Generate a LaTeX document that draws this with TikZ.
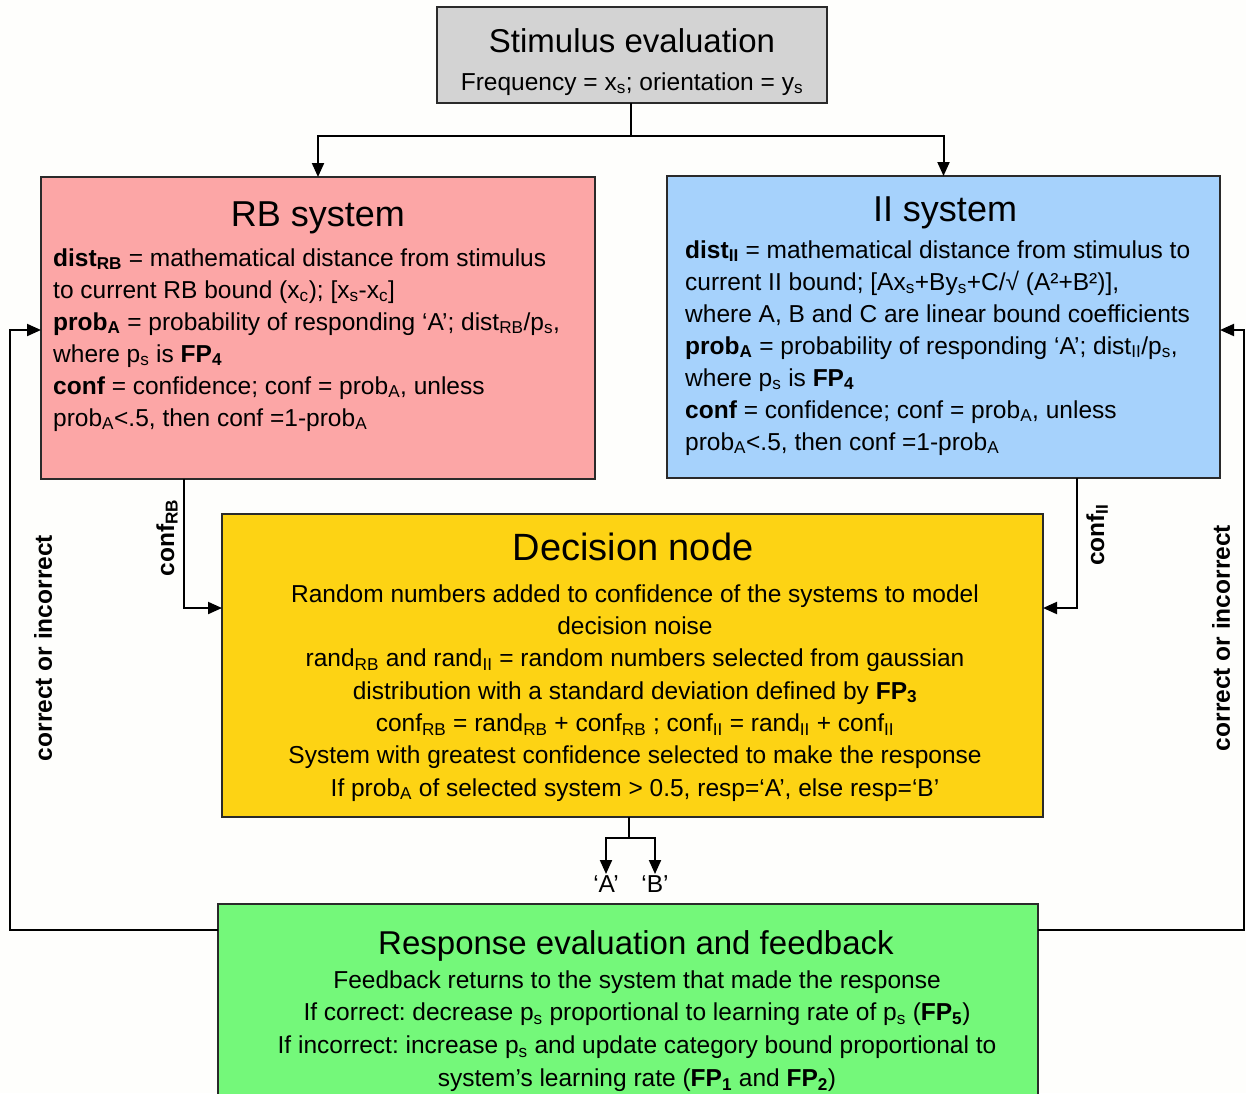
\documentclass[tikz,border=0pt]{standalone}
\usepackage{fontspec}
\setmainfont{Liberation Sans}
\usetikzlibrary{arrows.meta}
\newcommand\sub[1]{\textsubscript{#1}}
\definecolor{bgc}{HTML}{FEFEFC}
\definecolor{stimc}{HTML}{D3D3D3}
\definecolor{rbc}{HTML}{FCA6A6}
\definecolor{iic}{HTML}{A6D2FC}
\definecolor{decc}{HTML}{FDD314}
\definecolor{respc}{HTML}{74F87A}
\definecolor{edgec}{HTML}{2A2A2A}
\frenchspacing
\begin{document}
\begin{tikzpicture}[x=1pt,y=-1pt,
  box/.style={draw=edgec,line width=1.4pt,inner sep=0pt,outer sep=0pt,rectangle},
  ttl/.style={inner sep=0pt,font=\fontsize{33}{40}\selectfont},
  bdy/.style={inner sep=0pt,font=\fontsize{24.5}{32}\selectfont},
  lbl/.style={inner sep=0pt,font=\fontsize{24.5}{30}\selectfont\bfseries},
  conn/.style={line width=2pt,draw=black},
  arr/.style={conn,-{Triangle[length=14pt,width=12pt]}}]
\fill[bgc] (0,0) rectangle (1246,1093);
\useasboundingbox (0,0) rectangle (1246,1093);
\begin{scope}
\clip (0,0) rectangle (1246,1093);
% boxes
\node[box,fill=stimc,minimum width=390pt,minimum height=96pt] (stim) at (632,55) {};
\node[box,fill=rbc,minimum width=554pt,minimum height=302pt] (rb) at (318,328) {};
\node[box,fill=iic,minimum width=553pt,minimum height=302pt] (ii) at (943.5,327) {};
\node[box,fill=decc,minimum width=821pt,minimum height=303pt] (dec) at (632.5,665.5) {};
\node[box,fill=respc,minimum width=820pt,minimum height=220pt] (resp) at (628,1014) {};
\end{scope}
% stimulus text
\node[ttl,anchor=base] (stimT) at (632,52) {Stimulus evaluation};
\node[bdy,anchor=base] (stimB) at (632,90) {Frequency = x\sub{s}; orientation = y\sub{s}};
% RB text
\node[ttl,anchor=base,font=\fontsize{36}{40}\selectfont] (rbT) at (318,226) {RB system};
\node[bdy,align=left,anchor=north west] (rbB) at (53,243.6) {\strut\textbf{dist\sub{RB}} = mathematical distance from stimulus\\
to current RB bound (x\sub{c}); [x\sub{s}-x\sub{c}]\\
\textbf{prob\sub{A}} = probability of responding ‘A’; dist\sub{RB}/p\sub{s},\\
where p\sub{s} is \textbf{FP\sub{4}}\\
\textbf{conf} = confidence; conf = prob\sub{A}, unless\\
prob\sub{A}<.5, then conf =1-prob\sub{A}};
% II text
\node[ttl,anchor=base,font=\fontsize{36}{40}\selectfont] (iiT) at (945,221) {II system};
\node[bdy,align=left,anchor=north west] (iiB) at (685,235.6) {\strut\textbf{dist\sub{II}} = mathematical distance from stimulus to\\
current II bound; [Ax\sub{s}+By\sub{s}+C/√ (A²+B²)],\\
where A, B and C are linear bound coefficients\\
\textbf{prob\sub{A}} = probability of responding ‘A’; dist\sub{II}/p\sub{s},\\
where p\sub{s} is \textbf{FP\sub{4}}\\
\textbf{conf} = confidence; conf = prob\sub{A}, unless\\
prob\sub{A}<.5, then conf =1-prob\sub{A}};
% decision text
\node[ttl,anchor=base,font=\fontsize{38}{44}\selectfont] (decT) at (633,560) {Decision node};
\node[bdy,align=center,anchor=north,font=\fontsize{24.5}{32.3}\selectfont] (decB) at (635,579.4) {\strut Random numbers added to confidence of the systems to model\\
decision noise\\
rand\sub{RB} and rand\sub{II} = random numbers selected from gaussian\\
distribution with a standard deviation defined by \textbf{FP\sub{3}}\\
conf\sub{RB} = rand\sub{RB} + conf\sub{RB} ; conf\sub{II} = rand\sub{II} + conf\sub{II}\\
System with greatest confidence selected to make the response\\
If prob\sub{A} of selected system > 0.5, resp=‘A’, else resp=‘B’};
% response text
\node[ttl,anchor=base] (respT) at (636,954) {Response evaluation and feedback};
\node[bdy,align=center,anchor=north,font=\fontsize{24.5}{32.7}\selectfont] (respB) at (637,965.1) {\strut Feedback returns to the system that made the response\\
If correct: decrease p\sub{s} proportional to learning rate of p\sub{s} (\textbf{FP\sub{5}})\\
If incorrect: increase p\sub{s} and update category bound proportional to\\
system’s learning rate (\textbf{FP\sub{1}} and \textbf{FP\sub{2}})};
% top split
\coordinate (split) at (631,136);
\draw[conn] (stim.south -| split) -- (split);
\draw[arr] (split) -| (rb.north);
\draw[arr] (split) -| (ii.north);
% conf connectors
\coordinate (c1) at (184,608);
\coordinate (c2) at (1077,608);
\draw[arr] (rb.south -| c1) |- (dec.west |- c1);
\draw[arr] (ii.south -| c2) |- (dec.east |- c2);
\node[lbl,rotate=90] (lRB) at (167,538) {conf\sub{RB}};
\node[lbl,rotate=90] (lII) at (1097,535) {conf\sub{II}};
% A/B
\node[bdy,anchor=north,inner sep=1pt] (A) at (606,874) {‘A’};
\node[bdy,anchor=north,inner sep=1pt] (B) at (655,874) {‘B’};
\coordinate (ab) at (629,838);
\draw[conn] (dec.south -| ab) -- (ab);
\draw[arr] (ab) -| (A.north);
\draw[arr] (ab) -| (B.north);
% feedback loops
\coordinate (fl) at (10,930);
\coordinate (fl2) at (10,330);
\draw[arr] (resp.west |- fl) -- (fl) -- (fl2) -- (rb.west |- fl2);
\coordinate (fr) at (1244,930);
\coordinate (fr2) at (1244,330);
\draw[arr] (resp.east |- fr) -- (fr) -- (fr2) -- (ii.east |- fr2);
\node[lbl,rotate=90] (lL) at (43,648) {correct or incorrect};
\node[lbl,rotate=90] (lR) at (1221,638) {correct or incorrect};
\end{tikzpicture}
\end{document}
